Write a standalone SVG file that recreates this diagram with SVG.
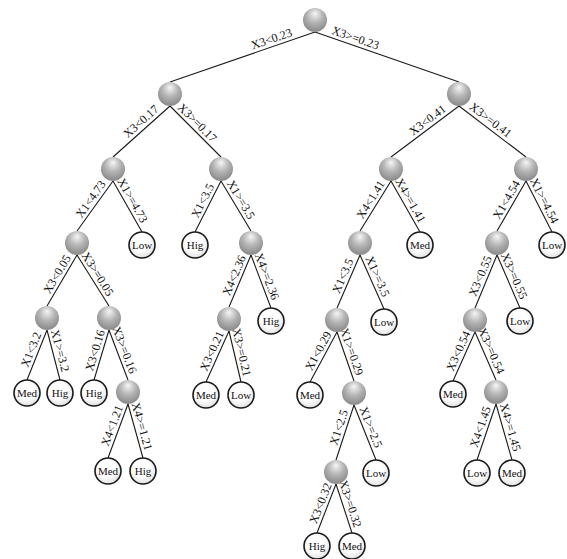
<svg xmlns="http://www.w3.org/2000/svg" width="567" height="559" viewBox="0 0 567 559">
<defs>
<radialGradient id="sph" cx="50%" cy="35%" r="60%" fx="50%" fy="22%">
<stop offset="0" stop-color="#f6f6f6"/>
<stop offset="0.55" stop-color="#b4b4b4"/>
<stop offset="1" stop-color="#8e8e8e"/>
</radialGradient>
<radialGradient id="leafg" cx="45%" cy="40%" r="65%">
<stop offset="0.5" stop-color="#ffffff"/>
<stop offset="1" stop-color="#dcdcdc"/>
</radialGradient>
</defs>
<style>
.e{stroke:#1a1a1a;stroke-width:1.1;fill:none}
.lb{font-family:"Liberation Serif","Times New Roman",serif;font-size:12px;fill:#111;text-anchor:middle}
.s{fill:url(#sph)}
.lf{fill:url(#leafg);stroke:#1a1a1a;stroke-width:1.6}
.lt{font-family:"Liberation Serif","Times New Roman",serif;font-size:11px;fill:#111;text-anchor:middle}
</style>
<rect width="567" height="559" fill="#ffffff"/>
<g id="connectors">
<path class="e" d="M315,32L170,82M315,32L459,82M170,106L113,157M170,106L221,157M459,106L391,157M459,106L526,157M113,181L77,231M113,181L142,232M221,181L195,232M221,181L251,231M391,181L360,231M391,181L420,232M526,181L497,231M526,181L552,232M77,255L47,306M77,255L109,306M251,255L229,307M251,255L271,308M360,255L337,308M360,255L384,309M497,255L475,308M497,255L520,308M47,330L27,380M47,330L60,380M109,330L94,380M109,330L128,380M229,331L206,382M229,331L241,382M337,332L310,382M337,332L354,381M475,332L453,381M475,332L496,380M128,404L108,458M128,404L143,458M354,405L336,460M354,405L376,460M496,404L477,460M496,404L512,460M336,484L317,533M336,484L352,533"/>
<g id="edge-labels">
<text class="lb" transform="translate(274,46) rotate(-19.03)" y="-3.5">X3&lt;0.23</text>
<text class="lb" transform="translate(353,45) rotate(19.15)" y="-3.5">X3&gt;=0.23</text>
<text class="lb" transform="translate(146,127) rotate(-41.8)" y="-3.5">X3&lt;0.17</text>
<text class="lb" transform="translate(192,128) rotate(45)" y="-3.5">X3&gt;=0.17</text>
<text class="lb" transform="translate(432,126) rotate(-36.87)" y="-3.5">X3&lt;0.41</text>
<text class="lb" transform="translate(486,126) rotate(37.28)" y="-3.5">X3&gt;=0.41</text>
<text class="lb" transform="translate(96.8,203.5) rotate(-54.25)" y="-3.5">X1&lt;4.73</text>
<text class="lb" transform="translate(126.1,204) rotate(60.38)" y="-3.5">X1&gt;=4.73</text>
<text class="lb" transform="translate(209.3,204) rotate(-62.98)" y="-3.5">X1&lt;3.5</text>
<text class="lb" transform="translate(234.5,203.5) rotate(59.04)" y="-3.5">X1&gt;=3.5</text>
<text class="lb" transform="translate(377,203.5) rotate(-58.2)" y="-3.5">X4&lt;1.41</text>
<text class="lb" transform="translate(404,204) rotate(60.38)" y="-3.5">X4&gt;=1.41</text>
<text class="lb" transform="translate(513,203.5) rotate(-59.9)" y="-3.5">X1&lt;4.54</text>
<text class="lb" transform="translate(537.7,204) rotate(62.98)" y="-3.5">X1&gt;=4.54</text>
<text class="lb" transform="translate(63.5,278) rotate(-59.53)" y="-3.5">X3&lt;0.05</text>
<text class="lb" transform="translate(91.4,278) rotate(57.9)" y="-3.5">X3&gt;=0.05</text>
<text class="lb" transform="translate(241.1,278.4) rotate(-67.07)" y="-3.5">X4&lt;2.36</text>
<text class="lb" transform="translate(260,278.9) rotate(69.3)" y="-3.5">X4&gt;=2.36</text>
<text class="lb" transform="translate(349.7,278.9) rotate(-66.5)" y="-3.5">X1&lt;3.5</text>
<text class="lb" transform="translate(370.8,279.3) rotate(66.04)" y="-3.5">X1&gt;=3.5</text>
<text class="lb" transform="translate(487.1,278.9) rotate(-67.46)" y="-3.5">X3&lt;0.55</text>
<text class="lb" transform="translate(507.4,278.9) rotate(66.54)" y="-3.5">X3&gt;=0.55</text>
<text class="lb" transform="translate(38,352.5) rotate(-68.2)" y="-3.5">X1&lt;3.2</text>
<text class="lb" transform="translate(52.9,352.5) rotate(75.43)" y="-3.5">X1&gt;=3.2</text>
<text class="lb" transform="translate(102.3,352.5) rotate(-73.3)" y="-3.5">X3&lt;0.16</text>
<text class="lb" transform="translate(117.6,352.5) rotate(69.2)" y="-3.5">X3&gt;=0.16</text>
<text class="lb" transform="translate(218.7,354) rotate(-65.7)" y="-3.5">X3&lt;0.21</text>
<text class="lb" transform="translate(234.4,354) rotate(76.76)" y="-3.5">X3&gt;=0.21</text>
<text class="lb" transform="translate(324.9,354.5) rotate(-61.6)" y="-3.5">X1&lt;0.29</text>
<text class="lb" transform="translate(344.7,354) rotate(70.87)" y="-3.5">X1&gt;=0.29</text>
<text class="lb" transform="translate(465.1,354) rotate(-65.8)" y="-3.5">X3&lt;0.54</text>
<text class="lb" transform="translate(484.5,353.6) rotate(66.37)" y="-3.5">X3&gt;=0.54</text>
<text class="lb" transform="translate(119,428.3) rotate(-69.68)" y="-3.5">X4&lt;1.21</text>
<text class="lb" transform="translate(134.8,428.3) rotate(74.48)" y="-3.5">X4&gt;=1.21</text>
<text class="lb" transform="translate(345.9,429.8) rotate(-71.88)" y="-3.5">X1&lt;2.5</text>
<text class="lb" transform="translate(363.9,429.8) rotate(68.2)" y="-3.5">X1&gt;=2.5</text>
<text class="lb" transform="translate(487.5,429.2) rotate(-71.26)" y="-3.5">X4&lt;1.45</text>
<text class="lb" transform="translate(503.2,429.2) rotate(74.05)" y="-3.5">X4&gt;=1.45</text>
<text class="lb" transform="translate(327.5,506) rotate(-68.8)" y="-3.5">X3&lt;0.32</text>
<text class="lb" transform="translate(343.2,506) rotate(71.9)" y="-3.5">X3&gt;=0.32</text>
</g>
</g>
<g id="n0"><circle class="s" cx="315" cy="20" r="12"/></g>
<g id="n1"><circle class="s" cx="170" cy="94" r="12"/></g>
<g id="n2"><circle class="s" cx="459" cy="94" r="12"/></g>
<g id="n3"><circle class="s" cx="113" cy="169" r="12"/></g>
<g id="n4"><circle class="s" cx="221" cy="169" r="12"/></g>
<g id="n5"><circle class="s" cx="391" cy="169" r="12"/></g>
<g id="n6"><circle class="s" cx="526" cy="169" r="12"/></g>
<g id="n7"><circle class="s" cx="77" cy="243" r="12"/></g>
<g id="leaf-low-1"><circle class="lf" cx="142" cy="245" r="13"/><text class="lt" x="142" y="249">Low</text></g>
<g id="leaf-hig-1"><circle class="lf" cx="195" cy="245" r="13"/><text class="lt" x="195" y="249">Hig</text></g>
<g id="n8"><circle class="s" cx="251" cy="243" r="12"/></g>
<g id="n9"><circle class="s" cx="360" cy="243" r="12"/></g>
<g id="leaf-med-1"><circle class="lf" cx="420" cy="245" r="13"/><text class="lt" x="420" y="249">Med</text></g>
<g id="n10"><circle class="s" cx="497" cy="243" r="12"/></g>
<g id="leaf-low-2"><circle class="lf" cx="552" cy="245" r="13"/><text class="lt" x="552" y="249">Low</text></g>
<g id="n11"><circle class="s" cx="47" cy="318" r="12"/></g>
<g id="n12"><circle class="s" cx="109" cy="318" r="12"/></g>
<g id="n13"><circle class="s" cx="229" cy="319" r="12"/></g>
<g id="leaf-hig-2"><circle class="lf" cx="271" cy="321" r="13"/><text class="lt" x="271" y="325">Hig</text></g>
<g id="n14"><circle class="s" cx="337" cy="320" r="12"/></g>
<g id="leaf-low-3"><circle class="lf" cx="384" cy="322" r="13"/><text class="lt" x="384" y="326">Low</text></g>
<g id="n15"><circle class="s" cx="475" cy="320" r="12"/></g>
<g id="leaf-low-4"><circle class="lf" cx="520" cy="321" r="13"/><text class="lt" x="520" y="325">Low</text></g>
<g id="leaf-med-2"><circle class="lf" cx="27" cy="393" r="13"/><text class="lt" x="27" y="397">Med</text></g>
<g id="leaf-hig-3"><circle class="lf" cx="60" cy="393" r="13"/><text class="lt" x="60" y="397">Hig</text></g>
<g id="leaf-hig-4"><circle class="lf" cx="94" cy="393" r="13"/><text class="lt" x="94" y="397">Hig</text></g>
<g id="n16"><circle class="s" cx="128" cy="392" r="12"/></g>
<g id="leaf-med-3"><circle class="lf" cx="206" cy="395" r="13"/><text class="lt" x="206" y="399">Med</text></g>
<g id="leaf-low-5"><circle class="lf" cx="241" cy="395" r="13"/><text class="lt" x="241" y="399">Low</text></g>
<g id="leaf-med-4"><circle class="lf" cx="310" cy="395" r="13"/><text class="lt" x="310" y="399">Med</text></g>
<g id="n17"><circle class="s" cx="354" cy="393" r="12"/></g>
<g id="leaf-med-5"><circle class="lf" cx="453" cy="394" r="13"/><text class="lt" x="453" y="398">Med</text></g>
<g id="n18"><circle class="s" cx="496" cy="392" r="12"/></g>
<g id="leaf-med-6"><circle class="lf" cx="108" cy="471" r="13"/><text class="lt" x="108" y="475">Med</text></g>
<g id="leaf-hig-5"><circle class="lf" cx="143" cy="471" r="13"/><text class="lt" x="143" y="475">Hig</text></g>
<g id="n19"><circle class="s" cx="336" cy="472" r="12"/></g>
<g id="leaf-low-6"><circle class="lf" cx="376" cy="473" r="13"/><text class="lt" x="376" y="477">Low</text></g>
<g id="leaf-low-7"><circle class="lf" cx="477" cy="473" r="13"/><text class="lt" x="477" y="477">Low</text></g>
<g id="leaf-med-7"><circle class="lf" cx="512" cy="473" r="13"/><text class="lt" x="512" y="477">Med</text></g>
<g id="leaf-hig-6"><circle class="lf" cx="317" cy="546" r="13"/><text class="lt" x="317" y="550">Hig</text></g>
<g id="leaf-med-8"><circle class="lf" cx="352" cy="546" r="13"/><text class="lt" x="352" y="550">Med</text></g>
</svg>
